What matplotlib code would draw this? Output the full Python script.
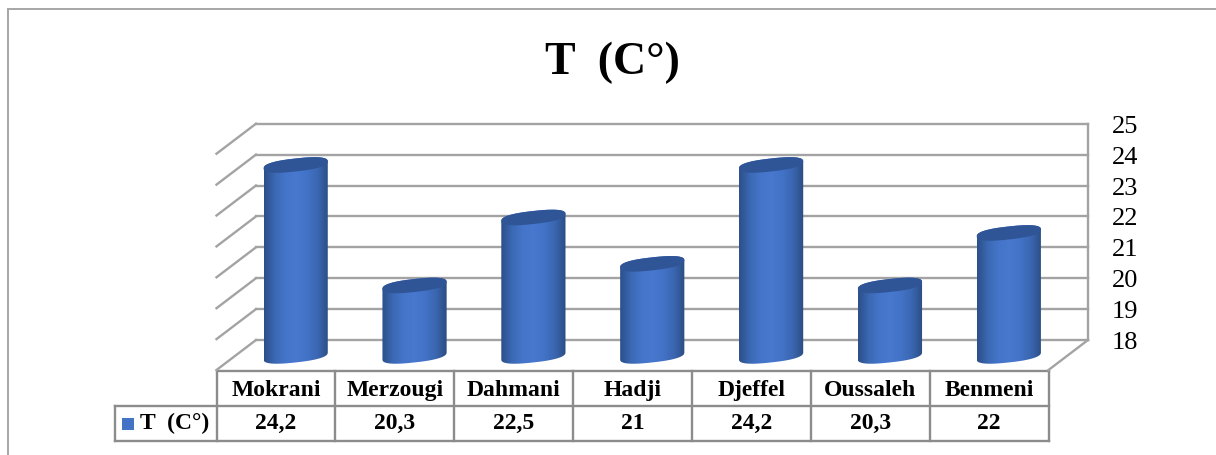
import matplotlib
matplotlib.use('Agg')
import matplotlib.pyplot as plt
import numpy as np
from matplotlib.patches import PathPatch
from matplotlib.path import Path

plt.rcParams['font.family'] = ['Liberation Serif', 'DejaVu Serif']

names = ['Mokrani', 'Merzougi', 'Dahmani', 'Hadji', 'Djeffel', 'Oussaleh', 'Benmeni']
temps = [24.2, 20.3, 22.5, 21, 24.2, 20.3, 22]
temp_labels = ['24,2', '20,3', '22,5', '21', '24,2', '20,3', '22']
y_ticks = [18, 19, 20, 21, 22, 23, 24, 25]
series_name = 'T  (C°)'

W, H = 1216, 455
grid_col = '#a3a3a3'
blue = '#4472c4'

fig = plt.figure(figsize=(W / 100, H / 100), dpi=100)

# overlay in pixels for frame, title and table
bg = fig.add_axes([0, 0, 1, 1])
bg.set_xlim(0, W)
bg.set_ylim(H, 0)
bg.axis('off')
bg.plot([8, 8], [H + 5, 9], color='#a6a6a6', lw=1.4)
bg.plot([8, W + 5], [9, 9], color='#a6a6a6', lw=1.4)

bg.text(612, 63, series_name, ha='center', va='center', fontsize=33, fontweight='bold')

# front plane of the chart: value 18 at y=370, 30.9 px per unit
x0, x1 = 216.5, 1048.5
unit = 30.9
y_base = 370
y_top = 120
ax = fig.add_axes([x0 / W, 1 - y_base / H, (x1 - x0) / W, (y_base - y_top) / H])
ax.set_xlim(-0.5, 6.5)
ax.set_ylim(18, 18 + (y_base - y_top) / unit)
ax.axis('off')
ax.patch.set_alpha(0)
cat_w = (x1 - x0) / 7
dep_x = 39.5 / cat_w
dep_y = 30 / unit

# walls and floor
for v in y_ticks:
    ax.plot([-0.5 + dep_x, 6.5 + dep_x], [v + dep_y, v + dep_y], color=grid_col, lw=1.7, clip_on=False, zorder=1)
    ax.plot([-0.5, -0.5 + dep_x], [v, v + dep_y], color=grid_col, lw=1.7, clip_on=False, zorder=1)
ax.plot([6.5 + dep_x] * 2, [18 + dep_y, 25 + dep_y], color=grid_col, lw=1.7, clip_on=False, zorder=1)
ax.plot([6.5, 6.5 + dep_x], [18, 18 + dep_y], color=grid_col, lw=1.7, clip_on=False, zorder=1)

for v in y_ticks:
    ax.text(6.5 + dep_x + 24 / cat_w, v + dep_y - 0.1, str(v), ha='left', va='center', fontsize=19, clip_on=False)

# cylinders
half = 0.27
eh = 6.5 / unit
shear = 3.5 / unit


def rim(tv):
    # slightly squared ellipse, closer to the rounded lids in the picture
    c = np.sign(np.cos(tv)) * np.abs(np.cos(tv)) ** 0.8
    s = np.sign(np.sin(tv)) * np.abs(np.sin(tv)) ** 0.8
    return c, s


t = np.linspace(0, 2 * np.pi, 120)
shade = np.array([[0.17, 0.31, 0.54], [0.23, 0.41, 0.70], [0.27, 0.46, 0.79], [0.28, 0.47, 0.81],
                  [0.26, 0.45, 0.78], [0.23, 0.40, 0.69], [0.17, 0.30, 0.51]])
grad = np.array([[np.interp(u, np.linspace(0, 1, 7), shade[:, c]) for c in range(3)] for u in np.linspace(0, 1, 200)])[None, :, :]
for i, v in enumerate(temps):
    xc = i + dep_x / 2
    yb = 18 + dep_y / 2 - 0.03
    yt = v + dep_y / 2 - 0.05
    # body outline: bottom half of the rim then straight up to the top rim
    cb, sb = rim(np.linspace(np.pi, 2 * np.pi, 50))
    ct, st = rim(np.linspace(0, np.pi, 50))
    xs = np.r_[xc + half * cb, xc + half * ct]
    ys = np.r_[yb + eh * sb + shear * cb, yt + eh * st + shear * ct]
    body = Path(np.column_stack([xs, ys]))
    im = ax.imshow(grad, extent=[xc - half, xc + half, 17.5, 26], aspect='auto', zorder=3, interpolation='bilinear')
    im.set_clip_path(PathPatch(body, transform=ax.transData))
    c, s = rim(t)
    ax.fill(xc + half * c, yt + eh * s + shear * c, color='#2f5597', zorder=4, lw=0)
ax.set_xlim(-0.5, 6.5)
ax.set_ylim(18, 18 + (y_base - y_top) / unit)

# data table
r0, r1, r2 = 371, 406, 441
left = 115
lc = '#8c8c8c'
bg.plot([x0, x1], [r0, r0], color=lc, lw=1.7)
bg.plot([left, x1], [r1, r1], color=lc, lw=1.7)
bg.plot([left, x1], [r2, r2], color=lc, lw=1.7)
bg.plot([left, left], [r1, r2], color=lc, lw=1.7)
for k in range(8):
    bg.plot([x0 + k * cat_w] * 2, [r0, r2], color=lc, lw=1.7)
for k in range(7):
    cx = x0 + (k + 0.5) * cat_w
    bg.text(cx, (r0 + r1) / 2 + 2, names[k], ha='center', va='center', fontsize=17, fontweight='bold')
    bg.text(cx, (r1 + r2) / 2, temp_labels[k], ha='center', va='center', fontsize=17, fontweight='bold')
bg.fill([122, 134, 134, 122], [418, 418, 430, 430], color=blue, lw=0)
bg.text(140, (r1 + r2) / 2, series_name, ha='left', va='center', fontsize=17, fontweight='bold')

fig.savefig('out.png', dpi=100)
